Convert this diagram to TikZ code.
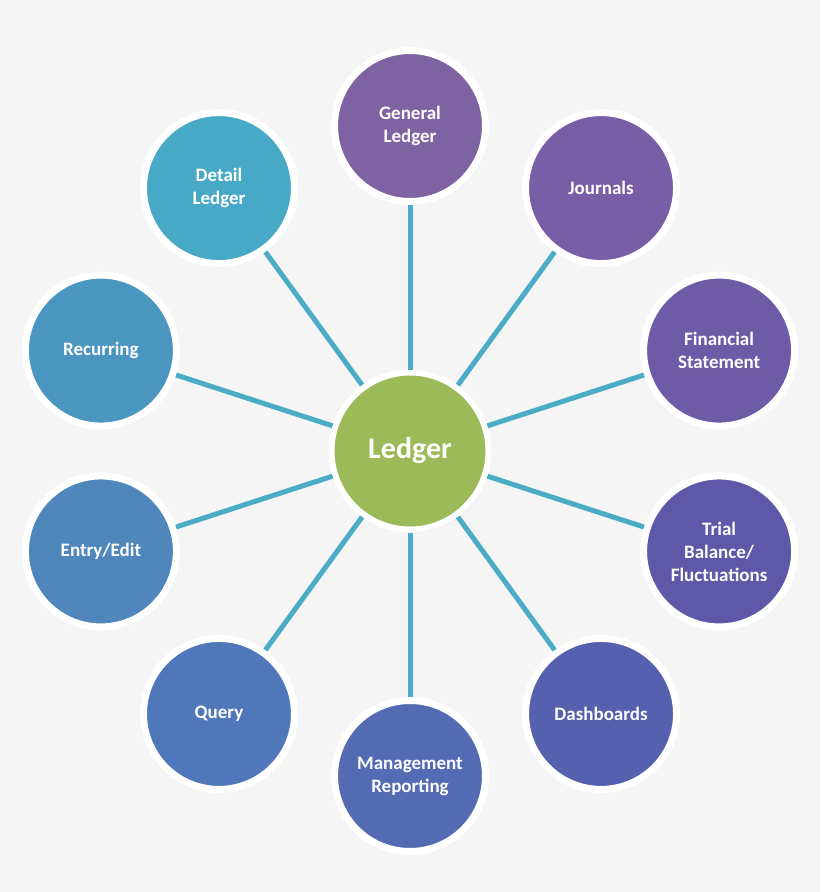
\documentclass[tikz,border=0pt]{standalone}
\usepackage{fontspec}
\setmainfont{Carlito}
\usetikzlibrary{shadows}
\definecolor{bg}{HTML}{F5F5F5}
\definecolor{link}{HTML}{4BACC6}
\definecolor{cgreen}{HTML}{9BBB59}
\definecolor{cGL}{HTML}{7E62A1}
\definecolor{cJO}{HTML}{785EA7}
\definecolor{cFS}{HTML}{6E5BA8}
\definecolor{cTB}{HTML}{5F58A8}
\definecolor{cDA}{HTML}{5560AE}
\definecolor{cMR}{HTML}{546BB4}
\definecolor{cQU}{HTML}{5077B9}
\definecolor{cEE}{HTML}{4F86BC}
\definecolor{cRE}{HTML}{4B95C1}
\definecolor{cDL}{HTML}{47A9C6}
\tikzset{
  spoke/.style={circle, draw=white, line width=7pt, minimum size=151pt, inner sep=0pt,
    text=white, font=\fontsize{19}{23}\selectfont\bfseries, align=center,
    drop shadow={opacity=0.12, shadow xshift=2pt, shadow yshift=-3pt}},
  hub/.style={circle, draw=white, line width=6pt, fill=cgreen, minimum size=157pt, inner sep=0pt,
    text=white, font=\fontsize{30}{34}\selectfont\bfseries,
    drop shadow={opacity=0.12, shadow xshift=2pt, shadow yshift=-3pt}},
  link/.style={draw=link, line width=5pt}
}
\begin{document}
\begin{tikzpicture}[x=1pt,y=-1pt]
\fill[bg] (0,0) rectangle (820,892);
\useasboundingbox (0,0) rectangle (820,892);
\node[hub] (c) at (410,451) {Ledger};
\begin{scope}[shift={(410,451)}]
\node[spoke, fill=cGL] (gl) at (90:-325) {General\\Ledger};
\node[spoke, fill=cJO] (jo) at (126:-325) {Journals};
\node[spoke, fill=cFS] (fs) at (162:-325) {Financial\\Statement};
\node[spoke, fill=cTB] (tb) at (198:-325) {Trial\\Balance/\\Fluctuations};
\node[spoke, fill=cDA] (da) at (234:-325) {Dashboards};
\node[spoke, fill=cMR] (mr) at (270:-325) {Management\\Reporting};
\node[spoke, fill=cQU] (qu) at (306:-325) {Query};
\node[spoke, fill=cEE] (ee) at (342:-325) {Entry/Edit};
\node[spoke, fill=cRE] (re) at (18:-325) {Recurring};
\node[spoke, fill=cDL] (dl) at (54:-325) {Detail\\Ledger};
\end{scope}
\foreach \n in {gl,jo,fs,tb,da,mr,qu,ee,re,dl}
  \draw[link] (c) -- (\n);
\end{tikzpicture}
\end{document}
